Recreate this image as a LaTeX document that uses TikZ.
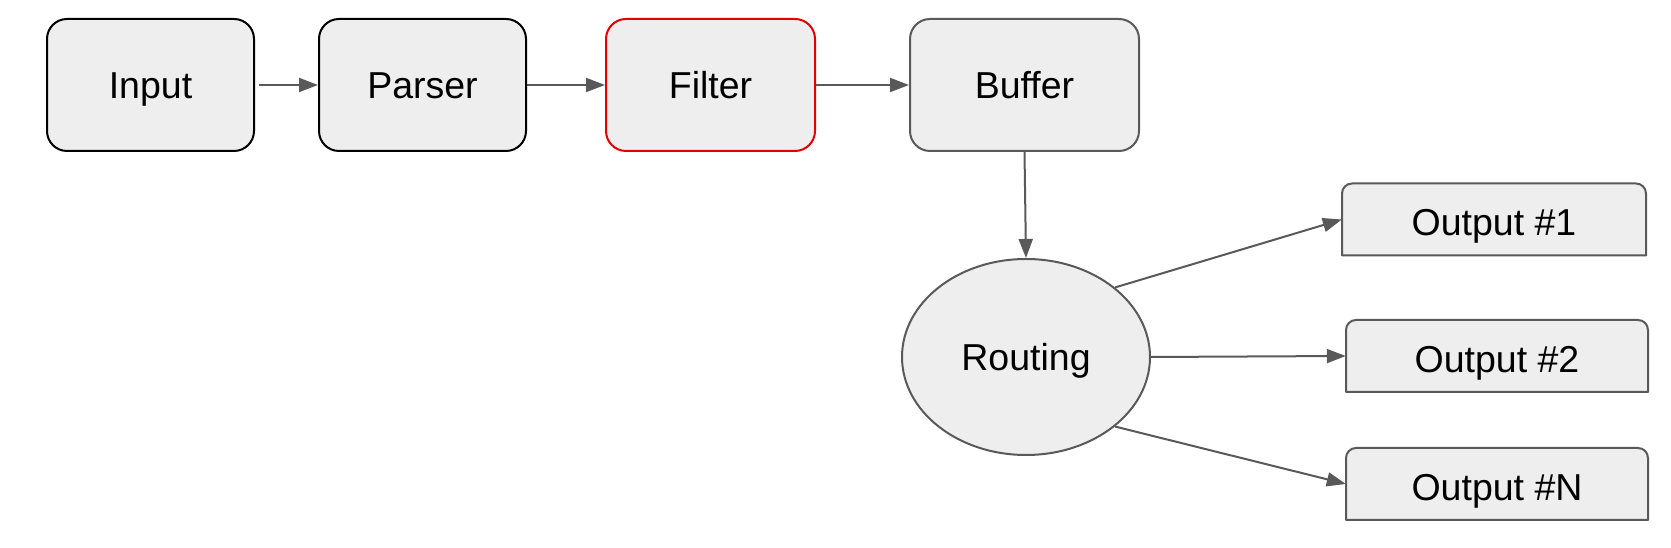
\documentclass[tikz,border=0pt]{standalone}
\usepackage{fontspec}
\setmainfont{Liberation Sans}
\usetikzlibrary{shapes.geometric,arrows.meta}
\definecolor{boxfill}{HTML}{EEEEEE}
\definecolor{edgegray}{HTML}{595959}
\definecolor{edgered}{RGB}{226,0,0}
\tikzset{
  lbl/.style={font=\fontsize{37.5}{45}\selectfont, text=black, inner sep=0pt,
    text height=27pt, text depth=0pt},
  mainbox/.style={lbl, rectangle, rounded corners=20pt, fill=boxfill, line width=2pt,
    minimum height=132pt},
  routebox/.style={lbl, ellipse, fill=boxfill, draw=edgegray, line width=2pt,
    minimum width=248pt, minimum height=196pt},
  outbox/.style={lbl, rectangle, minimum height=72pt},
  outline/.style={fill=boxfill, draw=edgegray, line width=2pt, line join=round},
  arr/.style={draw=edgegray, line width=2pt,
    -{Triangle[length=19pt,width=14pt]}, fill=none},
}
\begin{document}
\begin{tikzpicture}[x=1pt,y=1pt]
\useasboundingbox (0,0) rectangle (1671,548);

\node[mainbox, draw=black, minimum width=207pt] (in) at (150.5,463) {Input};
\node[mainbox, draw=black, minimum width=207pt] (pa) at (422.5,463) {Parser};
\node[mainbox, draw=edgered, minimum width=209pt] (fi) at (710.5,463) {Filter};
\node[mainbox, draw=edgegray, minimum width=229pt] (bu) at (1024.5,463) {Buffer};

\node[routebox] (ro) at (1026,191) {Routing};

% output boxes: top corners rounded, bottom corners square
\foreach \nm/\cx/\cy/\w/\txt in {o1/1494/328.5/304/{Output \#1},
                                 o2/1497/192/302/{Output \#2},
                                 on/1497/64/302/{Output \#N}}{
  \path[outline] (\cx-\w/2,\cy-36) -- (\cx-\w/2,\cy+26)
     arc[start angle=180,end angle=90,radius=10]
     -- (\cx+\w/2-10,\cy+36)
     arc[start angle=90,end angle=0,radius=10]
     -- (\cx+\w/2,\cy-36) -- cycle;
  \node[outbox, minimum width=\w pt] (\nm) at (\cx,\cy) {};
  \node[lbl] (\nm-t) at ([yshift=-3pt]\nm.center) {\txt};
}

\draw[arr] ([xshift=4pt]in.east) -- (pa.west);
\draw[arr] (pa.east) -- (fi.west);
\draw[arr] (fi.east) -- (bu.west);
\draw[arr] (bu.south) -- (ro.north);
\draw[arr] (ro.38) -- (o1.west);
\draw[arr] (ro.east) -- (o2.west);
\draw[arr] (ro.-38) -- (on.west);
\end{tikzpicture}
\end{document}
